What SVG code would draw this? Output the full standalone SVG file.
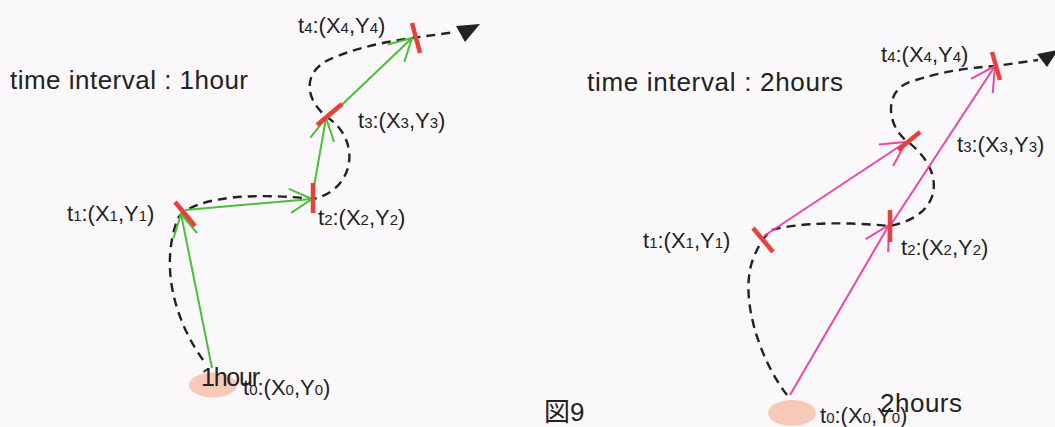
<svg xmlns="http://www.w3.org/2000/svg" width="1055" height="427" viewBox="0 0 1055 427">
<style>
  text { font-family: "Liberation Sans", Arial, "Noto Sans CJK JP", sans-serif; fill: #222; }
  .title { font-size: 26px; }
  .lbl { font-size: 22px; }
  .sub { font-size: 15px; }
  .big { font-size: 25px; }
  .dash { fill: none; stroke: #222; stroke-width: 2.4; stroke-dasharray: 9 6; }
  .green { stroke: #4cbf3a; stroke-width: 2; fill: none; marker-end: url(#vg); }
  .mag { stroke: #ec46a8; stroke-width: 2; fill: none; marker-end: url(#vm); }
  .tick { stroke: #e8413c; stroke-width: 4.5; stroke-linecap: butt; }
  .start { fill: #f8c8b8; }
  .head { fill: #222; }
</style>
<defs>
  <marker id="vg" markerUnits="userSpaceOnUse" markerWidth="40" markerHeight="40" refX="0" refY="0" viewBox="-30 -20 40 40" orient="auto">
    <path d="M -22 -12 L 0 0 L -22 12" fill="none" stroke="#4cbf3a" stroke-width="2"/>
  </marker>
  <marker id="vm" markerUnits="userSpaceOnUse" markerWidth="40" markerHeight="40" refX="0" refY="0" viewBox="-30 -20 40 40" orient="auto">
    <path d="M -24 -13 L 0 0 L -24 13" fill="none" stroke="#ec46a8" stroke-width="2"/>
  </marker>
</defs>
<rect x="0" y="0" width="1055" height="427" fill="#faf8fa"/>

<text class="title" x="10" y="89" textLength="238">time interval : 1hour</text>
<text class="title" x="587" y="91" textLength="256">time interval : 2hours</text>
<text x="544" y="421" style="font-size:26px">図9</text>

<g id="connectors">
  <!-- left panel -->
  <path class="dash" d="M 203 360 C 178 325, 158 270, 178 218 C 195 195, 260 193, 313 199 C 355 190, 362 140, 327 117 C 305 100, 300 70, 335 57 C 360 47, 385 42, 412 38 L 456 32"/>
  <polygon class="head" points="456,26 480,24 465,42"/>
  <line class="green" x1="212" y1="368" x2="181" y2="214"/>
  <line class="green" x1="185" y1="210" x2="312" y2="199"/>
  <line class="green" x1="312" y1="198" x2="326" y2="118"/>
  <line class="green" x1="328" y1="118" x2="412" y2="38"/>
  <!-- right panel -->
  <path class="dash" d="M 787 395 C 760 360, 740 300, 752 262 C 758 245, 765 235, 772 230 C 800 222, 850 222, 890 226 C 945 215, 945 170, 908 142 C 885 125, 885 90, 910 82 C 940 72, 965 68, 996 66 L 1038 60"/>
  <polygon class="head" points="1037,54 1058,50 1047,67"/>
  <line class="mag" x1="790" y1="395" x2="889" y2="225"/>
  <line class="mag" x1="890" y1="226" x2="995" y2="66"/>
  <line class="mag" x1="764" y1="236" x2="906" y2="142"/>
</g>

<g id="left-t0">
  <ellipse class="start" cx="213" cy="385" rx="24" ry="12.5"/>
  <text class="lbl" x="243" y="395">t<tspan class="sub">0</tspan>:(X<tspan class="sub">0</tspan>,Y<tspan class="sub">0</tspan>)</text>
  <text class="big" x="201" y="386" textLength="59">1hour</text>
</g>
<g id="left-t1">
  <line class="tick" x1="175" y1="202" x2="195" y2="226"/>
  <text class="lbl" x="67" y="221">t<tspan class="sub">1</tspan>:(X<tspan class="sub">1</tspan>,Y<tspan class="sub">1</tspan>)</text>
</g>
<g id="left-t2">
  <line class="tick" x1="313" y1="183" x2="313" y2="213"/>
  <text class="lbl" x="318" y="225">t<tspan class="sub">2</tspan>:(X<tspan class="sub">2</tspan>,Y<tspan class="sub">2</tspan>)</text>
</g>
<g id="left-t3">
  <line class="tick" x1="317" y1="125" x2="342" y2="104"/>
  <text class="lbl" x="358" y="128">t<tspan class="sub">3</tspan>:(X<tspan class="sub">3</tspan>,Y<tspan class="sub">3</tspan>)</text>
</g>
<g id="left-t4">
  <line class="tick" x1="412" y1="23" x2="420" y2="53"/>
  <text class="lbl" x="298" y="33">t<tspan class="sub">4</tspan>:(X<tspan class="sub">4</tspan>,Y<tspan class="sub">4</tspan>)</text>
</g>

<g id="right-t0">
  <ellipse class="start" cx="792" cy="413" rx="24" ry="13"/>
  <text class="lbl" x="820" y="423">t<tspan class="sub">0</tspan>:(X<tspan class="sub">0</tspan>,Y<tspan class="sub">0</tspan>)</text>
  <text class="big" x="880" y="412" textLength="82" style="font-size:26px">2hours</text>
</g>
<g id="right-t1">
  <line class="tick" x1="753" y1="228" x2="773" y2="252"/>
  <text class="lbl" x="643" y="248">t<tspan class="sub">1</tspan>:(X<tspan class="sub">1</tspan>,Y<tspan class="sub">1</tspan>)</text>
</g>
<g id="right-t2">
  <line class="tick" x1="890" y1="210" x2="890" y2="242"/>
  <text class="lbl" x="901" y="255">t<tspan class="sub">2</tspan>:(X<tspan class="sub">2</tspan>,Y<tspan class="sub">2</tspan>)</text>
</g>
<g id="right-t3">
  <line class="tick" x1="898" y1="150" x2="920" y2="132"/>
  <text class="lbl" x="957" y="152">t<tspan class="sub">3</tspan>:(X<tspan class="sub">3</tspan>,Y<tspan class="sub">3</tspan>)</text>
</g>
<g id="right-t4">
  <line class="tick" x1="992" y1="52" x2="1000" y2="80"/>
  <text class="lbl" x="881" y="62">t<tspan class="sub">4</tspan>:(X<tspan class="sub">4</tspan>,Y<tspan class="sub">4</tspan>)</text>
</g>
</svg>
